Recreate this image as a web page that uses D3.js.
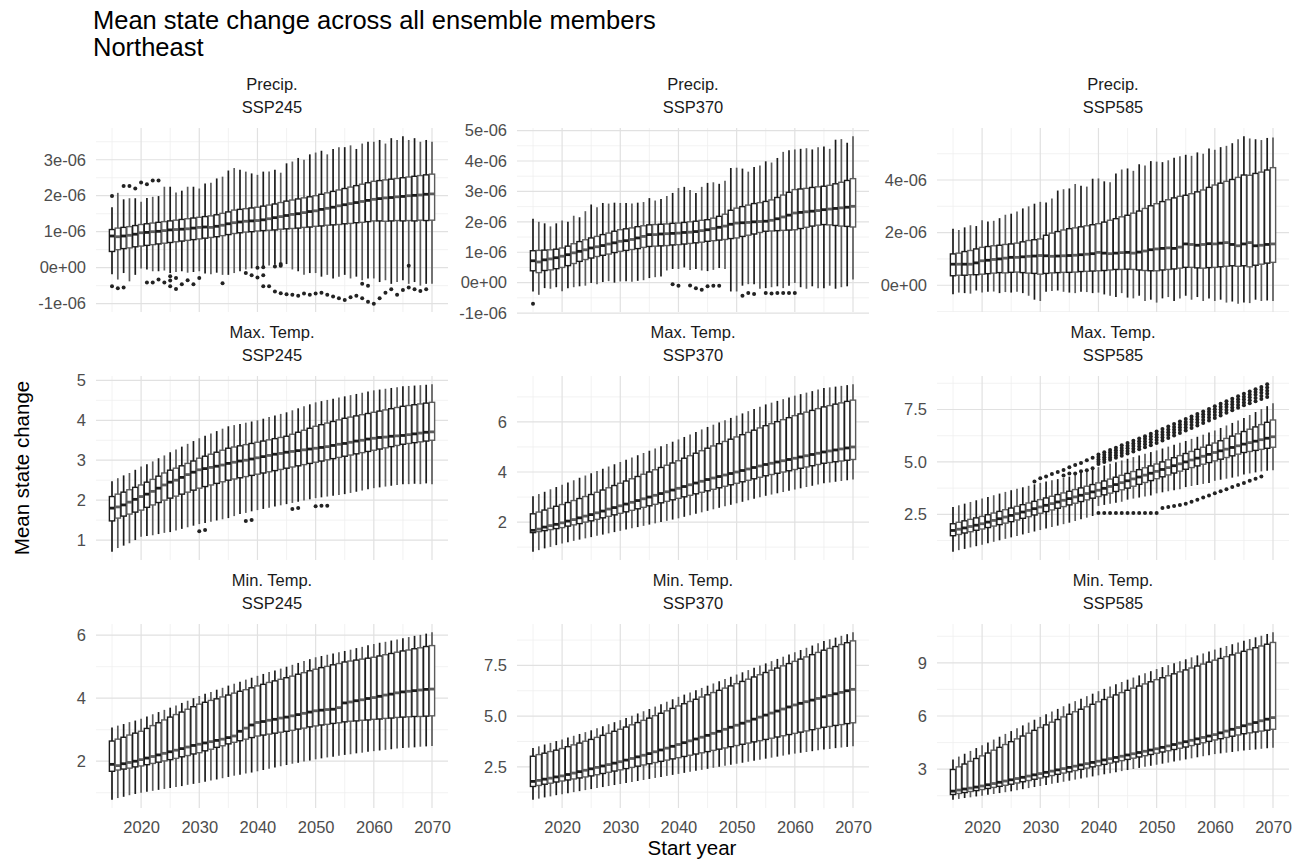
<!DOCTYPE html>
<html><head><meta charset="utf-8">
<script src="https://cdn.jsdelivr.net/npm/d3@7"></script>
<style>body{margin:0;background:#fff;} svg text{font-family:"Liberation Sans",Arial,Helvetica,sans-serif;}</style>
</head><body><svg id="chart" width="1305" height="860"></svg>
<script>
// ---------------- DATA ----------------
const years = [2015,2016,2017,2018,2019,2020,2021,2022,2023,2024,2025,2026,2027,2028,2029,2030,2031,2032,2033,2034,2035,2036,2037,2038,2039,2040,2041,2042,2043,2044,2045,2046,2047,2048,2049,2050,2051,2052,2053,2054,2055,2056,2057,2058,2059,2060,2061,2062,2063,2064,2065,2066,2067,2068,2069,2070];
const variables = ["Precip.","Max. Temp.","Min. Temp."];
const scenarios = ["SSP245","SSP370","SSP585"];
const xTicks = [2020,2030,2040,2050,2060,2070];
const xTickLabels = ["2020","2030","2040","2050","2060","2070"];
const xMinor = [2015,2025,2035,2045,2055,2065];

// Precip. values in units of 1e-06
const precip245_lo = [-0.18,-0.33,-0.15,-0.38,-0.20,-0.02,-0.05,-0.10,-0.10,-0.08,-0.15,-0.12,-0.10,-0.14,-0.12,-0.10,-0.16,-0.18,-0.14,-0.20,-0.20,-0.15,-0.10,-0.05,-0.02,0.04,-0.02,0.06,0.08,0.15,0.10,-0.05,-0.10,-0.20,-0.15,-0.15,-0.25,-0.20,-0.30,-0.25,-0.20,-0.30,-0.25,-0.35,-0.30,-0.30,-0.40,-0.35,-0.45,-0.40,-0.35,-0.45,-0.40,-0.50,-0.45,-0.45];
const precip245_q1 = [0.45,0.50,0.53,0.55,0.58,0.60,0.62,0.64,0.66,0.68,0.70,0.72,0.74,0.76,0.78,0.80,0.82,0.84,0.86,0.89,0.92,0.95,0.97,0.99,1.00,1.02,1.03,1.04,1.05,1.07,1.08,1.09,1.10,1.12,1.13,1.15,1.16,1.18,1.19,1.20,1.22,1.23,1.25,1.26,1.28,1.30,1.30,1.29,1.30,1.31,1.30,1.31,1.30,1.32,1.31,1.32];
const precip245_med = [0.88,0.86,0.88,0.90,0.93,0.97,0.98,1.00,1.01,1.03,1.05,1.06,1.07,1.08,1.10,1.12,1.13,1.12,1.15,1.18,1.22,1.25,1.27,1.29,1.30,1.31,1.33,1.36,1.39,1.42,1.45,1.48,1.50,1.53,1.56,1.58,1.62,1.65,1.68,1.72,1.75,1.78,1.81,1.84,1.87,1.90,1.92,1.94,1.95,1.97,1.98,2.00,2.01,2.02,2.04,2.05];
const precip245_q3 = [1.06,1.10,1.12,1.14,1.17,1.20,1.22,1.24,1.26,1.28,1.30,1.32,1.34,1.36,1.38,1.40,1.42,1.44,1.47,1.51,1.55,1.60,1.62,1.64,1.66,1.68,1.71,1.74,1.77,1.81,1.85,1.88,1.91,1.94,1.97,2.00,2.04,2.08,2.12,2.16,2.20,2.24,2.28,2.32,2.36,2.40,2.42,2.44,2.46,2.48,2.50,2.52,2.54,2.56,2.58,2.60];
const precip245_hi = [1.68,2.08,1.90,1.93,1.93,1.83,1.94,1.97,1.99,2.25,2.25,2.09,2.14,2.25,2.25,2.20,2.34,2.36,2.48,2.53,2.70,2.77,2.72,2.67,2.62,2.58,2.67,2.67,2.72,2.64,2.90,2.95,3.05,3.00,3.15,3.20,3.25,3.15,3.30,3.35,3.35,3.40,3.30,3.45,3.50,3.50,3.55,3.45,3.60,3.55,3.65,3.55,3.60,3.50,3.55,3.50];
const precip245_out = [[2015,1.99],[2017,2.27],[2018,2.27],[2019,2.20],[2020,2.37],[2021,2.32],[2022,2.42],[2023,2.42],
 [2015,-0.52],[2016,-0.57],[2017,-0.55],[2021,-0.41],[2022,-0.41],[2023,-0.33],[2024,-0.41],[2025,-0.36],[2025,-0.24],[2026,-0.29],[2025,-0.52],[2026,-0.59],[2027,-0.46],[2028,-0.35],[2029,-0.46],[2030,-0.29],[2034,-0.43],
 [2038,-0.15],[2039,-0.21],[2040,-0.27],[2041,-0.21],[2040,0.0],[2041,0.01],[2041,-0.52],[2042,-0.52],[2043,-0.66],[2044,-0.71],[2045,-0.74],[2043,0.03],[2044,0.10],[2044,0.05],
 [2046,-0.75],[2047,-0.78],[2048,-0.72],[2049,-0.75],[2050,-0.72],[2051,-0.70],[2052,-0.75],[2053,-0.80],[2054,-0.85],[2055,-0.90],[2056,-0.82],[2057,-0.78],[2058,-0.85],[2059,-0.95],[2060,-1.0],[2061,-0.85],[2062,-0.70],[2063,-0.60],[2064,-0.75],[2065,-0.62],[2066,-0.55],[2067,-0.60],[2068,-0.65],[2069,-0.60],[2066,0.05],[2058,-0.45],[2059,-0.50]];

const precip370_lo = [-0.29,-0.40,-0.18,-0.20,-0.15,-0.28,-0.18,-0.15,-0.12,-0.10,-0.01,-0.05,0.02,0.05,0.00,0.04,0.05,0.03,0.06,0.08,0.15,0.18,0.20,0.40,0.45,0.45,0.50,0.42,0.45,0.40,0.38,0.42,0.48,0.45,-0.29,-0.29,-0.10,-0.05,-0.05,-0.20,-0.18,-0.15,-0.12,-0.18,-0.10,-0.01,-0.15,-0.20,-0.12,-0.18,-0.18,-0.10,-0.20,-0.15,-0.12,0.10];
const precip370_q1 = [0.39,0.33,0.40,0.42,0.46,0.50,0.56,0.63,0.70,0.76,0.81,0.86,0.90,0.94,0.99,1.03,1.06,1.09,1.12,1.16,1.19,1.20,1.21,1.22,1.24,1.25,1.27,1.29,1.31,1.33,1.36,1.38,1.40,1.42,1.45,1.47,1.52,1.56,1.60,1.65,1.69,1.70,1.71,1.72,1.73,1.74,1.78,1.82,1.86,1.89,1.91,1.90,1.88,1.86,1.85,1.83];
const precip370_med = [0.72,0.68,0.75,0.78,0.82,0.87,0.92,0.98,1.03,1.08,1.14,1.18,1.22,1.27,1.31,1.36,1.38,1.42,1.47,1.52,1.58,1.58,1.60,1.61,1.62,1.63,1.65,1.66,1.68,1.71,1.74,1.78,1.82,1.86,1.92,1.96,1.97,1.98,2.00,2.01,2.02,2.05,2.10,2.16,2.22,2.29,2.31,2.33,2.35,2.37,2.40,2.42,2.44,2.46,2.48,2.51];
const precip370_q3 = [1.05,1.06,1.07,1.08,1.10,1.14,1.20,1.28,1.35,1.41,1.47,1.52,1.58,1.63,1.69,1.74,1.77,1.80,1.84,1.87,1.90,1.91,1.92,1.93,1.95,1.96,1.98,2.00,2.02,2.05,2.07,2.12,2.18,2.25,2.38,2.45,2.50,2.55,2.60,2.63,2.67,2.72,2.80,2.88,2.97,3.06,3.08,3.10,3.13,3.15,3.17,3.20,3.25,3.30,3.36,3.42];
const precip370_hi = [2.10,2.00,1.95,1.85,1.95,2.04,2.00,2.20,2.15,2.35,2.57,2.48,2.62,2.60,2.63,2.62,2.62,2.60,2.63,2.65,2.78,2.70,2.75,2.85,2.95,3.11,3.15,3.05,2.95,3.15,3.28,3.30,3.25,3.35,3.77,3.78,3.75,3.65,3.80,3.85,3.99,3.95,4.10,4.30,4.35,4.38,4.40,4.42,4.38,4.45,4.48,4.40,4.70,4.72,4.60,4.81];
const precip370_out = [[2015,-0.69],[2039,-0.05],[2040,-0.10],[2042,-0.09],[2043,-0.18],[2044,-0.23],[2045,-0.12],[2046,-0.10],[2047,-0.10],
 [2051,-0.43],[2052,-0.34],[2053,-0.37],[2055,-0.34],[2056,-0.36],[2057,-0.34],[2058,-0.34],[2059,-0.34],[2060,-0.34]];

const precip585_lo = [-0.34,-0.28,-0.30,-0.32,-0.20,-0.28,-0.25,-0.24,-0.30,-0.26,-0.28,-0.25,-0.30,-0.40,-0.55,-0.60,-0.25,-0.22,-0.20,-0.25,-0.28,-0.30,-0.25,-0.26,-0.30,-0.28,-0.35,-0.40,-0.45,-0.30,-0.47,-0.50,-0.40,-0.60,-0.55,-0.66,-0.50,-0.45,-0.60,-0.50,-0.40,-0.55,-0.45,-0.60,-0.50,-0.60,-0.55,-0.66,-0.62,-0.70,-0.66,-0.68,-0.55,-0.60,-0.58,-0.60];
const precip585_q1 = [0.36,0.38,0.38,0.40,0.40,0.42,0.44,0.46,0.48,0.47,0.49,0.50,0.48,0.46,0.45,0.42,0.45,0.47,0.48,0.49,0.49,0.50,0.52,0.53,0.54,0.55,0.56,0.58,0.60,0.60,0.61,0.60,0.58,0.56,0.55,0.55,0.58,0.60,0.62,0.65,0.68,0.68,0.66,0.65,0.67,0.68,0.70,0.72,0.74,0.72,0.74,0.70,0.76,0.80,0.84,0.87];
const precip585_med = [0.80,0.80,0.80,0.80,0.85,0.93,0.95,0.98,1.00,1.03,1.06,1.06,1.08,1.10,1.11,1.13,1.12,1.10,1.11,1.12,1.13,1.14,1.16,1.18,1.20,1.25,1.22,1.20,1.22,1.24,1.25,1.22,1.26,1.30,1.35,1.38,1.40,1.42,1.40,1.45,1.57,1.55,1.52,1.55,1.58,1.57,1.60,1.62,1.55,1.50,1.57,1.62,1.50,1.52,1.55,1.57];
const precip585_q3 = [1.19,1.22,1.28,1.32,1.38,1.44,1.47,1.50,1.52,1.55,1.57,1.60,1.65,1.70,1.73,1.76,1.90,1.98,2.04,2.10,2.15,2.18,2.22,2.26,2.30,2.34,2.40,2.47,2.53,2.60,2.66,2.74,2.82,2.92,3.02,3.10,3.18,3.25,3.32,3.38,3.42,3.48,3.55,3.62,3.72,3.81,3.88,3.95,4.02,4.10,4.19,4.18,4.25,4.30,4.38,4.47];
const precip585_hi = [2.15,2.10,2.20,2.28,2.25,2.47,2.42,2.45,2.55,2.68,2.72,2.80,2.92,3.00,3.10,3.17,3.15,3.30,3.60,3.65,3.68,3.85,3.78,3.75,4.05,4.06,3.95,3.92,4.25,4.40,4.44,4.35,4.60,4.55,4.72,4.70,4.68,4.75,4.85,4.90,4.96,4.92,5.05,5.00,5.20,5.15,5.25,5.30,5.40,5.55,5.66,5.58,5.55,5.52,5.60,5.62];
const precip585_out = [];

const tmax245_lo = [0.71,0.80,0.86,0.92,1.00,1.08,1.10,1.12,1.15,1.18,1.20,1.24,1.28,1.32,1.36,1.40,1.43,1.46,1.49,1.52,1.55,1.60,1.65,1.68,1.72,1.75,1.78,1.81,1.84,1.87,1.90,1.93,1.96,1.99,2.02,2.05,2.07,2.09,2.11,2.13,2.15,2.18,2.21,2.24,2.27,2.30,2.32,2.34,2.36,2.38,2.40,2.40,2.41,2.40,2.42,2.40];
const tmax245_q1 = [1.48,1.55,1.60,1.65,1.70,1.75,1.82,1.88,1.94,2.00,2.05,2.10,2.15,2.20,2.25,2.30,2.34,2.38,2.42,2.46,2.50,2.53,2.56,2.59,2.62,2.65,2.68,2.71,2.74,2.77,2.80,2.83,2.86,2.89,2.92,2.95,2.98,3.01,3.04,3.07,3.10,3.13,3.16,3.19,3.22,3.25,3.28,3.31,3.34,3.37,3.40,3.42,3.44,3.46,3.48,3.50];
const tmax245_med = [1.80,1.83,1.88,1.95,2.02,2.09,2.15,2.22,2.30,2.38,2.45,2.50,2.57,2.64,2.70,2.76,2.79,2.82,2.85,2.88,2.92,2.95,2.98,3.00,3.03,3.06,3.09,3.12,3.15,3.17,3.20,3.22,3.24,3.26,3.28,3.30,3.32,3.34,3.37,3.40,3.42,3.45,3.48,3.50,3.53,3.55,3.57,3.58,3.60,3.61,3.62,3.64,3.66,3.68,3.70,3.71];
const tmax245_q3 = [2.09,2.15,2.20,2.26,2.32,2.38,2.45,2.52,2.60,2.68,2.75,2.80,2.86,2.92,2.98,3.05,3.10,3.15,3.20,3.25,3.30,3.33,3.36,3.39,3.42,3.45,3.48,3.51,3.54,3.57,3.60,3.65,3.70,3.75,3.80,3.85,3.89,3.93,3.97,4.01,4.05,4.08,4.11,4.14,4.17,4.20,4.23,4.26,4.29,4.32,4.35,4.37,4.39,4.41,4.43,4.45];
const tmax245_hi = [2.47,2.55,2.62,2.68,2.76,2.84,2.90,2.97,3.05,3.12,3.20,3.27,3.34,3.41,3.48,3.55,3.61,3.67,3.73,3.79,3.85,3.88,3.91,3.94,3.97,4.00,4.04,4.08,4.12,4.16,4.20,4.25,4.30,4.35,4.40,4.45,4.48,4.51,4.54,4.57,4.60,4.63,4.66,4.69,4.72,4.75,4.77,4.79,4.81,4.83,4.85,4.86,4.87,4.88,4.89,4.90];
const tmax245_out = [[2030,1.22],[2031,1.25],[2038,1.48],[2039,1.50],[2046,1.78],[2047,1.80],[2050,1.85],[2051,1.86],[2052,1.86]];

const tmax370_lo = [0.82,0.88,0.95,1.01,1.08,1.14,1.19,1.25,1.30,1.35,1.40,1.45,1.50,1.55,1.60,1.65,1.70,1.75,1.80,1.85,1.90,1.95,2.00,2.05,2.10,2.15,2.21,2.27,2.33,2.39,2.45,2.51,2.57,2.63,2.69,2.75,2.81,2.87,2.93,2.99,3.05,3.10,3.15,3.20,3.25,3.30,3.35,3.40,3.45,3.50,3.55,3.58,3.61,3.64,3.67,3.70];
const tmax370_q1 = [1.58,1.62,1.66,1.70,1.74,1.78,1.84,1.89,1.94,2.00,2.05,2.11,2.17,2.23,2.29,2.35,2.41,2.47,2.53,2.59,2.65,2.71,2.77,2.83,2.89,2.95,3.01,3.07,3.13,3.19,3.25,3.31,3.37,3.43,3.49,3.55,3.61,3.67,3.73,3.79,3.85,3.90,3.95,4.00,4.05,4.10,4.15,4.20,4.25,4.30,4.35,4.38,4.41,4.44,4.47,4.50];
const tmax370_med = [1.67,1.72,1.80,1.86,1.91,1.97,2.04,2.10,2.17,2.24,2.30,2.37,2.44,2.52,2.58,2.65,2.72,2.79,2.86,2.93,3.00,3.07,3.14,3.21,3.28,3.35,3.42,3.49,3.56,3.63,3.70,3.76,3.82,3.88,3.94,4.00,4.06,4.12,4.18,4.24,4.30,4.35,4.40,4.45,4.50,4.55,4.60,4.65,4.70,4.75,4.80,4.84,4.88,4.92,4.96,5.00];
const tmax370_q3 = [2.33,2.40,2.48,2.55,2.63,2.70,2.78,2.86,2.94,3.02,3.10,3.19,3.28,3.37,3.46,3.55,3.64,3.73,3.82,3.91,4.00,4.09,4.18,4.27,4.36,4.45,4.55,4.65,4.75,4.85,4.95,5.04,5.13,5.22,5.31,5.40,5.49,5.58,5.67,5.76,5.85,5.93,6.01,6.09,6.17,6.25,6.32,6.39,6.46,6.53,6.60,6.65,6.71,6.76,6.82,6.87];
const tmax370_hi = [3.03,3.12,3.21,3.31,3.40,3.49,3.58,3.67,3.77,3.86,3.95,4.04,4.13,4.22,4.31,4.40,4.49,4.58,4.67,4.76,4.85,4.94,5.03,5.12,5.21,5.30,5.40,5.50,5.60,5.70,5.80,5.89,5.98,6.07,6.16,6.25,6.34,6.43,6.52,6.61,6.70,6.77,6.84,6.91,6.98,7.05,7.11,7.17,7.23,7.29,7.35,7.38,7.41,7.44,7.47,7.50];
const tmax370_out = [];

const tmax585_lo = [0.72,0.79,0.85,0.92,0.98,1.05,1.12,1.19,1.26,1.33,1.40,1.47,1.54,1.61,1.68,1.75,1.82,1.89,1.96,2.03,2.10,2.18,2.26,2.34,2.42,2.90,2.95,3.00,3.05,3.10,3.20,3.25,3.30,3.35,3.40,3.50,3.55,3.60,3.65,3.70,3.80,3.85,3.90,3.95,4.00,4.10,4.15,4.20,4.25,4.30,4.40,4.45,4.50,4.55,4.58,4.60];
const tmax585_q1 = [1.48,1.54,1.61,1.67,1.74,1.80,1.87,1.94,2.01,2.08,2.15,2.23,2.31,2.39,2.47,2.55,2.63,2.71,2.79,2.87,2.95,3.03,3.11,3.19,3.27,3.35,3.43,3.51,3.59,3.67,3.75,3.84,3.93,4.02,4.11,4.20,4.29,4.38,4.47,4.56,4.65,4.73,4.81,4.89,4.97,5.05,5.13,5.21,5.29,5.37,5.45,5.50,5.55,5.60,5.65,5.70];
const tmax585_med = [1.73,1.79,1.85,1.92,1.98,2.05,2.13,2.21,2.29,2.37,2.45,2.53,2.61,2.69,2.77,2.85,2.93,3.01,3.09,3.17,3.25,3.33,3.41,3.49,3.57,3.65,3.74,3.83,3.92,4.01,4.10,4.19,4.28,4.37,4.46,4.55,4.64,4.73,4.82,4.91,5.00,5.09,5.18,5.27,5.36,5.45,5.53,5.61,5.69,5.77,5.85,5.92,5.99,6.06,6.13,6.20];
const tmax585_q3 = [2.05,2.12,2.19,2.26,2.33,2.40,2.48,2.56,2.64,2.72,2.80,2.88,2.96,3.04,3.12,3.20,3.28,3.36,3.44,3.52,3.60,3.68,3.76,3.84,3.92,4.00,4.09,4.18,4.27,4.36,4.45,4.54,4.63,4.72,4.81,4.90,5.00,5.10,5.20,5.30,5.40,5.50,5.60,5.70,5.80,5.90,6.01,6.12,6.23,6.34,6.45,6.56,6.67,6.78,6.89,7.00];
const tmax585_hi = [2.85,2.93,3.01,3.09,3.17,3.25,3.33,3.41,3.49,3.57,3.65,3.72,3.79,3.86,3.93,4.00,4.06,4.12,4.18,4.24,4.30,4.39,4.48,4.57,4.66,4.75,4.83,4.91,4.99,5.07,5.15,5.23,5.31,5.39,5.47,5.55,5.64,5.73,5.82,5.91,6.00,6.10,6.20,6.30,6.40,6.50,6.62,6.74,6.86,6.98,7.10,7.24,7.38,7.52,7.66,7.80];
// sparse outliers [year, value]
const tmax585_out = [[2029,4.06],[2030,4.22],[2031,4.30],[2032,4.42],[2033,4.52],[2034,4.62],[2035,4.75],[2036,4.85],[2037,4.95],[2038,5.08],[2039,5.20],
 [2034,4.35],[2035,4.45],[2036,4.45],[2037,4.55],[2038,4.60],[2039,4.70],
 [2040,2.56],[2041,2.56],[2042,2.56],[2043,2.56],[2044,2.56],[2045,2.56],[2046,2.56],[2047,2.56],[2048,2.56],[2049,2.56],[2050,2.56],
 [2051,2.80],[2052,2.85],[2053,2.90],[2054,2.95],[2055,3.00],[2056,3.10],[2057,3.20],[2058,3.30],[2059,3.40],[2060,3.50],
 [2061,3.60],[2062,3.70],[2063,3.80],[2064,3.90],[2065,4.00],[2066,4.10],[2067,4.20],[2068,4.30]];
// dense upper outlier band: [year, values...]
const tmax585_band = [
 [2040,5.35,5.23,5.12,5.01,4.90],[2041,5.46,5.34,5.22,5.11,5.00],[2042,5.57,5.45,5.33,5.21,5.10],[2043,5.68,5.56,5.44,5.32,5.20],[2044,5.79,5.67,5.55,5.42,5.30],
 [2045,5.90,5.77,5.65,5.52,5.40],[2046,6.01,5.88,5.76,5.63,5.50],[2047,6.12,5.99,5.87,5.73,5.60],[2048,6.23,6.10,5.98,5.84,5.70],[2049,6.34,6.21,6.08,5.94,5.80],
 [2050,6.45,6.31,6.18,6.04,5.90],[2051,6.57,6.43,6.30,6.16,6.02],[2052,6.69,6.55,6.42,6.28,6.14],[2053,6.81,6.67,6.54,6.40,6.26],[2054,6.93,6.79,6.66,6.52,6.38],
 [2055,7.05,6.91,6.78,6.64,6.50],[2056,7.17,7.03,6.90,6.76,6.62],[2057,7.29,7.15,7.02,6.88,6.74],[2058,7.41,7.27,7.14,7.00,6.86],[2059,7.53,7.39,7.26,7.12,6.98],
 [2060,7.65,7.51,7.38,7.24,7.10],[2061,7.77,7.63,7.50,7.36,7.22],[2062,7.89,7.75,7.62,7.48,7.34],[2063,8.01,7.87,7.74,7.60,7.46],[2064,8.13,7.99,7.86,7.72,7.58],
 [2065,8.25,8.11,7.98,7.84,7.70],[2066,8.36,8.22,8.09,7.94,7.80],[2067,8.47,8.33,8.20,8.05,7.90],[2068,8.58,8.44,8.30,8.15,8.00],[2069,8.70,8.55,8.40,8.25,8.10]];

const tmin245_lo = [0.78,0.83,0.87,0.92,0.96,1.00,1.03,1.06,1.09,1.12,1.15,1.18,1.21,1.25,1.28,1.31,1.35,1.39,1.42,1.46,1.50,1.54,1.57,1.61,1.64,1.68,1.72,1.76,1.80,1.84,1.88,1.92,1.95,1.99,2.02,2.06,2.09,2.12,2.14,2.17,2.20,2.22,2.25,2.27,2.30,2.32,2.34,2.36,2.38,2.40,2.42,2.43,2.44,2.46,2.47,2.48];
const tmin245_q1 = [1.68,1.72,1.75,1.78,1.82,1.85,1.89,1.93,1.97,2.01,2.05,2.09,2.14,2.18,2.23,2.27,2.33,2.38,2.44,2.49,2.55,2.60,2.65,2.70,2.75,2.80,2.83,2.86,2.89,2.92,2.95,2.98,3.02,3.05,3.09,3.12,3.15,3.17,3.20,3.22,3.25,3.27,3.28,3.30,3.31,3.33,3.34,3.36,3.37,3.39,3.40,3.41,3.42,3.42,3.43,3.44];
const tmin245_med = [1.90,1.86,1.92,1.96,2.00,2.05,2.10,2.15,2.20,2.25,2.30,2.35,2.40,2.45,2.50,2.54,2.58,2.62,2.66,2.70,2.75,2.80,2.95,3.05,3.15,3.23,3.26,3.30,3.33,3.37,3.40,3.44,3.48,3.52,3.56,3.60,3.62,3.64,3.65,3.70,3.85,3.88,3.92,3.95,3.99,4.02,4.06,4.10,4.13,4.17,4.20,4.22,4.24,4.26,4.28,4.29];
const tmin245_q3 = [2.64,2.70,2.76,2.83,2.89,2.95,3.04,3.13,3.22,3.31,3.40,3.48,3.56,3.65,3.73,3.81,3.87,3.93,3.98,4.04,4.10,4.16,4.22,4.27,4.33,4.39,4.44,4.50,4.55,4.60,4.65,4.70,4.76,4.81,4.87,4.92,4.97,5.01,5.06,5.10,5.15,5.18,5.21,5.24,5.27,5.30,5.34,5.38,5.42,5.46,5.50,5.53,5.57,5.60,5.64,5.67];
const tmin245_hi = [3.07,3.13,3.18,3.24,3.29,3.35,3.42,3.49,3.56,3.63,3.70,3.77,3.85,3.92,4.00,4.07,4.14,4.20,4.27,4.33,4.40,4.46,4.52,4.59,4.65,4.71,4.77,4.83,4.88,4.94,5.00,5.06,5.12,5.18,5.24,5.30,5.34,5.38,5.42,5.46,5.50,5.54,5.59,5.63,5.68,5.72,5.76,5.79,5.83,5.86,5.90,5.94,5.98,6.01,6.05,6.09];
const tmin245_out = [];

const tmin370_lo = [0.88,0.93,0.99,1.04,1.10,1.15,1.20,1.25,1.30,1.35,1.40,1.45,1.50,1.55,1.60,1.65,1.70,1.75,1.80,1.85,1.90,1.95,2.00,2.05,2.10,2.15,2.20,2.25,2.30,2.35,2.40,2.45,2.50,2.55,2.60,2.65,2.70,2.75,2.80,2.85,2.90,2.95,3.00,3.05,3.10,3.15,3.19,3.23,3.27,3.31,3.35,3.38,3.42,3.45,3.48,3.51];
const tmin370_q1 = [1.53,1.58,1.64,1.69,1.75,1.80,1.85,1.90,1.95,2.00,2.05,2.11,2.17,2.23,2.29,2.35,2.41,2.47,2.53,2.59,2.65,2.71,2.77,2.83,2.89,2.95,3.01,3.07,3.13,3.19,3.25,3.31,3.37,3.43,3.49,3.55,3.61,3.67,3.73,3.79,3.85,3.91,3.97,4.03,4.09,4.15,4.21,4.27,4.33,4.39,4.45,4.49,4.54,4.58,4.63,4.67];
const tmin370_med = [1.78,1.83,1.89,1.94,2.00,2.05,2.12,2.19,2.26,2.33,2.40,2.47,2.54,2.61,2.68,2.75,2.83,2.91,2.99,3.07,3.15,3.24,3.33,3.42,3.51,3.60,3.69,3.78,3.87,3.96,4.05,4.15,4.25,4.35,4.45,4.55,4.65,4.75,4.85,4.95,5.05,5.15,5.25,5.35,5.45,5.55,5.63,5.71,5.79,5.87,5.95,6.02,6.10,6.17,6.25,6.32];
const tmin370_q3 = [3.02,3.10,3.17,3.25,3.32,3.40,3.49,3.58,3.67,3.76,3.85,3.95,4.05,4.15,4.25,4.35,4.46,4.57,4.68,4.79,4.90,5.02,5.14,5.26,5.38,5.50,5.61,5.72,5.83,5.94,6.05,6.16,6.27,6.38,6.49,6.60,6.71,6.82,6.93,7.04,7.15,7.26,7.37,7.48,7.59,7.70,7.81,7.92,8.03,8.14,8.25,8.34,8.43,8.53,8.62,8.71];
const tmin370_hi = [3.43,3.51,3.60,3.68,3.77,3.85,3.94,4.03,4.12,4.21,4.30,4.40,4.50,4.60,4.70,4.80,4.91,5.02,5.13,5.24,5.35,5.47,5.59,5.71,5.83,5.95,6.06,6.17,6.28,6.39,6.50,6.61,6.72,6.83,6.94,7.05,7.16,7.27,7.38,7.49,7.60,7.71,7.82,7.93,8.04,8.15,8.26,8.37,8.48,8.59,8.70,8.79,8.87,8.96,9.04,9.13];
const tmin370_out = [];

const tmin585_lo = [1.28,1.32,1.37,1.41,1.46,1.50,1.55,1.60,1.65,1.70,1.75,1.81,1.87,1.93,1.99,2.05,2.11,2.17,2.23,2.29,2.35,2.41,2.47,2.53,2.59,2.65,2.71,2.77,2.83,2.89,2.95,3.01,3.07,3.13,3.19,3.25,3.31,3.37,3.43,3.49,3.55,3.61,3.67,3.73,3.79,3.85,3.89,3.93,3.97,4.01,4.05,4.08,4.11,4.15,4.18,4.21];
const tmin585_q1 = [1.57,1.63,1.68,1.74,1.79,1.85,1.91,1.97,2.03,2.09,2.15,2.22,2.29,2.36,2.43,2.50,2.57,2.64,2.71,2.78,2.85,2.92,2.99,3.06,3.13,3.20,3.27,3.34,3.41,3.48,3.55,3.62,3.69,3.76,3.83,3.90,3.97,4.04,4.11,4.18,4.25,4.33,4.41,4.49,4.57,4.65,4.72,4.79,4.86,4.93,5.00,5.05,5.10,5.15,5.20,5.25];
const tmin585_med = [1.76,1.82,1.88,1.93,1.99,2.05,2.12,2.19,2.26,2.33,2.40,2.47,2.54,2.61,2.68,2.75,2.82,2.89,2.96,3.03,3.10,3.17,3.24,3.31,3.38,3.45,3.52,3.59,3.66,3.73,3.80,3.87,3.94,4.01,4.08,4.15,4.23,4.31,4.39,4.47,4.55,4.63,4.71,4.79,4.87,4.95,5.05,5.15,5.25,5.35,5.45,5.54,5.63,5.73,5.82,5.91];
const tmin585_q3 = [2.98,3.13,3.29,3.44,3.60,3.75,3.91,4.07,4.23,4.39,4.55,4.71,4.87,5.03,5.19,5.35,5.50,5.65,5.80,5.95,6.10,6.24,6.38,6.52,6.66,6.80,6.93,7.06,7.19,7.32,7.45,7.57,7.69,7.81,7.93,8.05,8.16,8.27,8.38,8.49,8.60,8.71,8.82,8.93,9.04,9.15,9.25,9.35,9.45,9.55,9.65,9.75,9.85,9.95,10.05,10.15];
const tmin585_hi = [3.55,3.71,3.87,4.03,4.19,4.35,4.51,4.67,4.83,4.99,5.15,5.31,5.47,5.63,5.79,5.95,6.10,6.25,6.40,6.55,6.70,6.84,6.98,7.12,7.26,7.40,7.53,7.66,7.79,7.92,8.05,8.17,8.29,8.41,8.53,8.65,8.76,8.87,8.98,9.09,9.20,9.31,9.42,9.53,9.64,9.75,9.85,9.95,10.05,10.15,10.25,10.34,10.44,10.53,10.63,10.72];
const tmin585_out = [];

// y tick values and labels for each panel (row-major)
const yTicks = [[-1,0,1,2,3],[-1,0,1,2,3,4,5],[0,2,4],[1,2,3,4,5],[2,4,6],[2.5,5,7.5],[2,4,6],[2.5,5,7.5],[3,6,9]];
const yTickLabels = [["-1e-06","0e+00","1e-06","2e-06","3e-06"],["-1e-06","0e+00","1e-06","2e-06","3e-06","4e-06","5e-06"],["0e+00","2e-06","4e-06"],["1","2","3","4","5"],["2","4","6"],["2.5","5.0","7.5"],["2","4","6"],["2.5","5.0","7.5"],["3","6","9"]];
const yMinor = [[-0.5,0.5,1.5,2.5,3.5],[-0.5,0.5,1.5,2.5,3.5,4.5],[-1,1,3,5],[0.5,1.5,2.5,3.5,4.5],[1,3,5,7],[1.25,3.75,6.25,8.75],[1,3,5],[1.25,3.75,6.25,8.75],[1.5,4.5,7.5,10.5]];

// ---------------- PANELS ----------------
const bandPoints = [];
tmax585_band.forEach(row => row.slice(1).forEach(v => bandPoints.push([row[0], v])));
const panelData = [
 {lo:precip245_lo,q1:precip245_q1,med:precip245_med,q3:precip245_q3,hi:precip245_hi,out:precip245_out},
 {lo:precip370_lo,q1:precip370_q1,med:precip370_med,q3:precip370_q3,hi:precip370_hi,out:precip370_out},
 {lo:precip585_lo,q1:precip585_q1,med:precip585_med,q3:precip585_q3,hi:precip585_hi,out:precip585_out},
 {lo:tmax245_lo,q1:tmax245_q1,med:tmax245_med,q3:tmax245_q3,hi:tmax245_hi,out:tmax245_out},
 {lo:tmax370_lo,q1:tmax370_q1,med:tmax370_med,q3:tmax370_q3,hi:tmax370_hi,out:tmax370_out},
 {lo:tmax585_lo,q1:tmax585_q1,med:tmax585_med,q3:tmax585_q3,hi:tmax585_hi,out:tmax585_out.concat(bandPoints)},
 {lo:tmin245_lo,q1:tmin245_q1,med:tmin245_med,q3:tmin245_q3,hi:tmin245_hi,out:tmin245_out},
 {lo:tmin370_lo,q1:tmin370_q1,med:tmin370_med,q3:tmin370_q3,hi:tmin370_hi,out:tmin370_out},
 {lo:tmin585_lo,q1:tmin585_q1,med:tmin585_med,q3:tmin585_q3,hi:tmin585_hi,out:tmin585_out}
];

const svg = d3.select("#chart");
const colLeft = [96,517,937], rowTop = [128,376,624], PW = 352, PH = 184;
const FONT = '"Liberation Sans",Arial,Helvetica,sans-serif';

svg.append("text").attr("x",93).attr("y",29).attr("font-size",25.5).attr("fill","#000").text("Mean state change across all ensemble members");
svg.append("text").attr("x",93).attr("y",56).attr("font-size",25.5).attr("fill","#000").text("Northeast");

panelData.forEach((pd,i)=>{
  const r = Math.floor(i/3), c = i%3;
  const L = colLeft[c], T = rowTop[r];
  const x = d3.scaleLinear().domain([years[0]-2.75, years[years.length-1]+2.75]).range([L, L+PW]);
  const allV = pd.lo.concat(pd.hi, pd.out.map(d=>d[1]));
  const [mn,mx] = d3.extent(allV);
  const pad = (mx-mn)*0.05;
  const y = d3.scaleLinear().domain([mn-pad, mx+pad]).range([T+PH, T]);
  const g = svg.append("g");
  // grid
  g.selectAll(".ymin").data(yMinor[i].filter(v=>v>=y.domain()[0]&&v<=y.domain()[1])).join("line")
    .attr("x1",L).attr("x2",L+PW).attr("y1",d=>y(d)).attr("y2",d=>y(d)).attr("stroke","#efefef").attr("stroke-width",0.8);
  g.selectAll(".xmin").data(xMinor).join("line")
    .attr("y1",T).attr("y2",T+PH).attr("x1",d=>x(d)).attr("x2",d=>x(d)).attr("stroke","#efefef").attr("stroke-width",0.8);
  g.selectAll(".ymaj").data(yTicks[i]).join("line")
    .attr("x1",L).attr("x2",L+PW).attr("y1",d=>y(d)).attr("y2",d=>y(d)).attr("stroke","#e1e1e1").attr("stroke-width",1.2);
  g.selectAll(".xmaj").data(xTicks).join("line")
    .attr("y1",T).attr("y2",T+PH).attr("x1",d=>x(d)).attr("x2",d=>x(d)).attr("stroke","#e1e1e1").attr("stroke-width",1.2);
  // y axis
  const ya = d3.axisLeft(y).tickValues(yTicks[i]).tickFormat((d,k)=>yTickLabels[i][k]).tickSize(0).tickPadding(10);
  const yg = g.append("g").attr("transform",`translate(${L},0)`).call(ya);
  yg.select(".domain").remove();
  yg.selectAll("text").attr("font-size",16.5).attr("fill","#4d4d4d").style("font-family",FONT);
  // x axis on bottom row
  if (r===2){
    const xa = d3.axisBottom(x).tickValues(xTicks).tickFormat((d,k)=>xTickLabels[k]).tickSize(0).tickPadding(13);
    const xg = g.append("g").attr("transform",`translate(0,${T+PH})`).call(xa);
    xg.select(".domain").remove();
    xg.selectAll("text").attr("font-size",16.5).attr("fill","#4d4d4d").style("font-family",FONT);
  }
  // strips
  g.append("text").attr("x",L+PW/2).attr("y",T-38).attr("text-anchor","middle").attr("font-size",16.5).attr("fill","#1a1a1a").text(variables[r]);
  g.append("text").attr("x",L+PW/2).attr("y",T-15).attr("text-anchor","middle").attr("font-size",16.5).attr("fill","#1a1a1a").text(scenarios[c]);
  // boxes
  const bw = 0.9*(x(years[1])-x(years[0]));
  const col = k => (k%2===0) ? "#1c1c1c" : "#5c5c5c";
  const bx = g.selectAll(".bx").data(years).join("g");
  bx.append("line").attr("x1",d=>x(d)).attr("x2",d=>x(d)).attr("y1",(d,k)=>y(pd.hi[k])).attr("y2",(d,k)=>y(pd.q3[k])).attr("stroke",(d,k)=>col(k)).attr("stroke-width",1.7);
  bx.append("line").attr("x1",d=>x(d)).attr("x2",d=>x(d)).attr("y1",(d,k)=>y(pd.q1[k])).attr("y2",(d,k)=>y(pd.lo[k])).attr("stroke",(d,k)=>col(k)).attr("stroke-width",1.7);
  bx.append("rect").attr("x",d=>x(d)-bw/2).attr("width",bw).attr("y",(d,k)=>y(pd.q3[k])).attr("height",(d,k)=>y(pd.q1[k])-y(pd.q3[k]))
    .attr("fill","#fff").attr("stroke",(d,k)=>col(k)).attr("stroke-width",1.4);
  bx.append("line").attr("x1",d=>x(d)-bw/2).attr("x2",d=>x(d)+bw/2).attr("y1",(d,k)=>y(pd.med[k])).attr("y2",(d,k)=>y(pd.med[k])).attr("stroke",(d,k)=>col(k)).attr("stroke-width",2.8);
  g.selectAll(".pt").data(pd.out).join("circle").attr("cx",d=>x(d[0])).attr("cy",d=>y(d[1])).attr("r",2).attr("fill","#222");
});

svg.append("text").attr("x",692).attr("y",855).attr("text-anchor","middle").attr("font-size",20.5).attr("fill","#000").text("Start year");
svg.append("text").attr("transform","translate(29,468) rotate(-90)").attr("text-anchor","middle").attr("font-size",20.5).attr("fill","#000").text("Mean state change");
</script></body></html>
